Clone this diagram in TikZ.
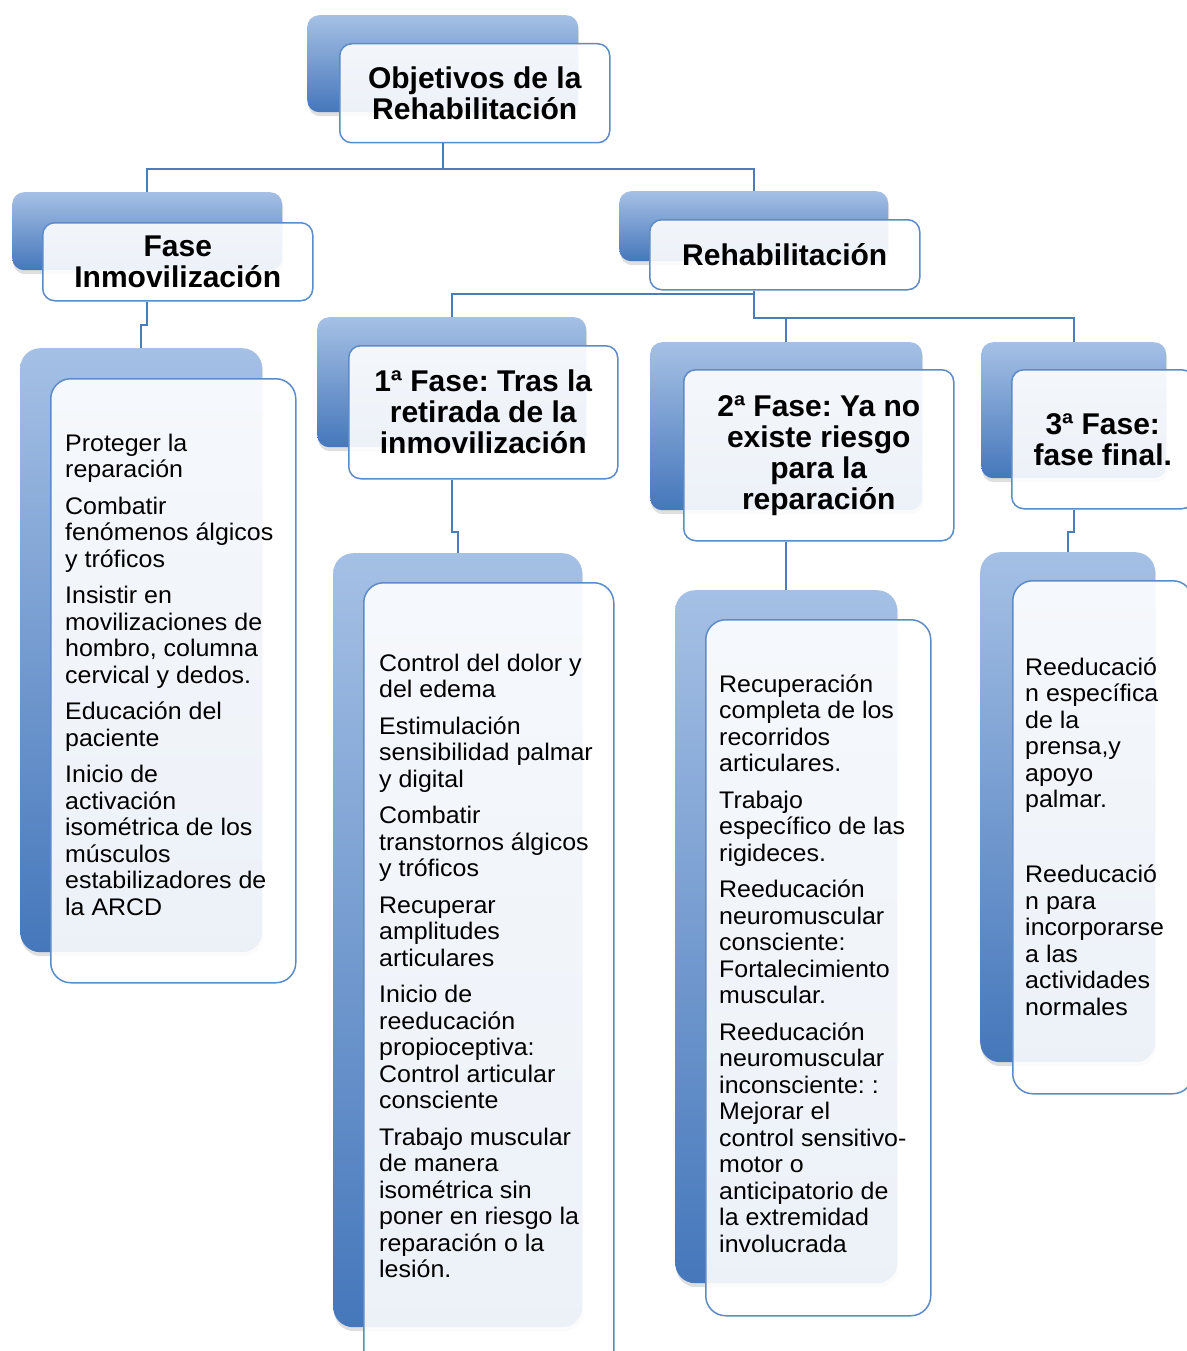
\documentclass[tikz,border=0pt]{standalone}
\usepackage{fontspec}
\setmainfont{Liberation Sans}
\newfontfamily\itemfont[FakeStretch=1.04]{Liberation Sans}
\usepackage{tikz}
\usetikzlibrary{positioning, calc, shadows}
\frenchspacing
\definecolor{rhbcolor0}{HTML}{A5C0E5}
\definecolor{rhbcolor1}{HTML}{4577BB}
\definecolor{rhbcolor2}{HTML}{5B8BC9}
\definecolor{rhbcolor3}{HTML}{4A7EBB}
\tikzset{
  back_box/.style={anchor=north west, rounded corners=12pt, top color=rhbcolor0, bottom color=rhbcolor1, draw=none, inner sep=0pt, drop shadow={shadow xshift=1pt, shadow yshift=-4pt, opacity=0.25}},
  back_panel/.style={back_box, rounded corners=20pt},
  front_box/.style={anchor=north west, rounded corners=12pt, draw=rhbcolor2, line width=1.5pt, fill=white, fill opacity=0.9, text opacity=1, inner sep=0pt, align=center, font=\bfseries\fontsize{30}{31}\selectfont},
  front_panel/.style={front_box, rounded corners=20pt},
  item_text/.style={anchor=north west, align=left, inner sep=0pt, font=\itemfont\fontsize{24}{26.5}\selectfont},
  link/.style={draw=rhbcolor3, line width=2pt}
}
\begin{document}
\begin{tikzpicture}[x=1pt, y=-1pt]
\useasboundingbox (0,0) rectangle (1186,1351);
\fill[white] (0,0) rectangle (1186,1351);
\node[back_box, minimum width=271pt, minimum height=97pt] (obj_back) at (307,15) {};
\node[front_box, minimum width=270pt, minimum height=99pt] (obj_front) at ($(obj_back.north west)+(32,28)$) {Objetivos de la\\Rehabilitación};
\node[back_box, minimum width=270pt, minimum height=78pt] (fi_back) at (12,192) {};
\node[front_box, minimum width=270pt, minimum height=78pt] (fi_front) at ($(fi_back.north west)+(30,30)$) {Fase\\Inmovilización};
\node[back_box, minimum width=269pt, minimum height=70pt] (rehab_back) at (619,191) {};
\node[front_box, minimum width=270pt, minimum height=70pt] (rehab_front) at ($(rehab_back.north west)+(30,28)$) {Rehabilitación};
\node[back_box, minimum width=269pt, minimum height=130pt] (ph1_back) at (317,317) {};
\node[front_box, minimum width=269pt, minimum height=133pt] (ph1_front) at ($(ph1_back.north west)+(31,28)$) {1ª Fase: Tras la\\retirada de la\\inmovilización};
\node[back_box, minimum width=272pt, minimum height=168pt] (ph2_back) at (650,342) {};
\node[front_box, minimum width=270pt, minimum height=171pt] (ph2_front) at ($(ph2_back.north west)+(33,27)$) {2ª Fase: Ya no\\existe riesgo\\para la\\reparación};
\node[back_box, minimum width=185pt, minimum height=136pt] (ph3_back) at (981,342) {};
\node[front_box, minimum width=182pt, minimum height=139pt] (ph3_front) at ($(ph3_back.north west)+(30,27)$) {3ª Fase:\\fase final.};
\node[back_panel, minimum width=242pt, minimum height=604pt] (a_back) at (20,348) {};
\node[front_panel, minimum width=245pt, minimum height=604pt] (a_front) at ($(a_back.north west)+(30,30)$) {};
\node[item_text] (a_items) at ($(a_front.north west)+(15,55.5)$) {Proteger la\\reparación\\[10pt]Combatir\\fenómenos álgicos\\y tróficos\\[10pt]Insistir en\\movilizaciones de\\hombro, columna\\cervical y dedos.\\[10pt]Educación del\\paciente\\[10pt]Inicio de\\activación\\isométrica de los\\músculos\\estabilizadores de\\la ARCD};
\node[back_panel, minimum width=249pt, minimum height=774pt] (b_back) at (333,553) {};
\node[front_panel, minimum width=250pt, minimum height=800pt] (b_front) at ($(b_back.north west)+(30,29)$) {};
\node[item_text] (b_items) at ($(b_front.north west)+(16,71.5)$) {Control del dolor y\\del edema\\[10pt]Estimulación\\sensibilidad palmar\\y digital\\[10pt]Combatir\\transtornos álgicos\\y tróficos\\[10pt]Recuperar\\amplitudes\\articulares\\[10pt]Inicio de\\reeducación\\propioceptiva:\\Control articular\\consciente\\[10pt]Trabajo muscular\\de manera\\isométrica sin\\poner en riesgo la\\reparación o la\\lesión.};
\node[back_panel, minimum width=222pt, minimum height=693pt] (c_back) at (675,590) {};
\node[front_panel, minimum width=225pt, minimum height=696pt] (c_front) at ($(c_back.north west)+(30,29)$) {};
\node[item_text] (c_items) at ($(c_front.north west)+(14,55.5)$) {Recuperación\\completa de los\\recorridos\\articulares.\\[10pt]Trabajo\\específico de las\\rigideces.\\[10pt]Reeducación\\neuromuscular\\consciente:\\Fortalecimiento\\muscular.\\[10pt]Reeducación\\neuromuscular\\inconsciente: :\\Mejorar el\\control sensitivo-\\motor o\\anticipatorio de\\la extremidad\\involucrada};
\node[back_panel, minimum width=175pt, minimum height=510pt] (d_back) at (980,552) {};
\node[front_panel, minimum width=180pt, minimum height=513pt] (d_front) at ($(d_back.north west)+(32,28)$) {};
\node[item_text] (d_items) at ($(d_front.north west)+(13,77.5)$) {Reeducació\\n específica\\de la\\prensa,y\\apoyo\\palmar.\\[48.5pt]Reeducació\\n para\\incorporarse\\a las\\actividades\\normales};
\draw[link] (obj_back.south |- obj_front.south) -- ++(0,26) coordinate (obj_split) -| (fi_back.north);
\draw[link] (obj_split) -| (rehab_back.north);
\draw[link] (fi_back.south |- fi_front.south) -- ++(0,23) -| (a_back.north);
\coordinate (rehab_out) at (rehab_back.south |- rehab_front.south);
\draw[link] (rehab_out) -- ++(0,3) -| (ph1_back.north);
\draw[link] (rehab_out) -- ++(0,27) coordinate (rehab_split) -| (ph2_back.north);
\draw[link] (rehab_split) -| (ph3_back.north);
\draw[link] (ph1_back.south |- ph1_front.south) -- ++(0,52) -| (b_back.north);
\draw[link] (ph2_back.south |- ph2_front.south) -- (c_back.north);
\draw[link] (ph3_back.south |- ph3_front.south) -- ++(0,22) -| (d_back.north);
\end{tikzpicture}
\end{document}
